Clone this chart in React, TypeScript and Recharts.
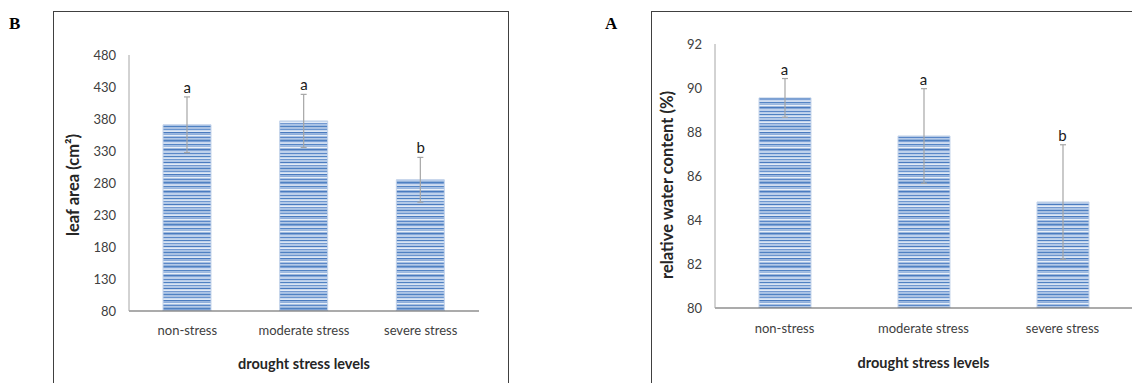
import {
  ComposedChart, Bar, XAxis, YAxis, ErrorBar, Scatter,
} from 'recharts';

const categories = ['non-stress', 'moderate stress', 'severe stress'];

const leafArea = [371, 377, 285];
const leafAreaErr = [43.5, 41.5, 35];
const leafAreaLetters = ['a', 'a', 'b'];
const leafTicks = [80, 130, 180, 230, 280, 330, 380, 430, 480];

const waterContent = [89.55, 87.82, 84.82];
const waterContentErr = [0.88, 2.15, 2.6];
const waterLetters = ['a', 'a', 'b'];
const waterTicks = [80, 82, 84, 86, 88, 90, 92];

const FONT = 'Lato, "Open Sans", sans-serif';

// stripe colours for the "horizontal lines" bar fill
const STRIPES = [
  '#4f81c2', '#a9c1e3', '#6a95cf', '#dce7f5', '#4a7bbf', '#8eaedb', '#e6eef8',
  '#5b88c8', '#b3c9e8', '#4f81c2', '#7ea2d6', '#cfdcf0', '#5585c5', '#9bb8e0',
  '#eaf0f8', '#4a7bbf', '#86a8d8', '#bdd0eb', '#5b88c8', '#c4d6ee', '#4f81c2',
  '#d8e4f4', '#6f98d0', '#b0c7e7', '#4a7bbf', '#e2ebf7', '#7399d1', '#a0bce2',
];

type Row = { name: string; value: number; err: number; top: number; letter: string };

function buildRows(vals: number[], errs: number[], letters: string[]): Row[] {
  return categories.map((name, i) => ({
    name,
    value: vals[i],
    err: errs[i],
    top: vals[i] + errs[i],
    letter: letters[i],
  }));
}

interface PanelProps {
  id: string;
  data: Row[];
  ticks: number[];
  yTitle: string;
  width: number;
  margin: { top: number; right: number; bottom: number; left: number };
  barSize: number;
  yTitleX: number;
  yTitleY: number;
  xTitleY: number;
  xTickMargin: number;
}

function Panel(p: PanelProps) {
  const pid = `stripes-${p.id}`;
  return (
    <ComposedChart width={p.width} height={383} data={p.data} margin={p.margin}>
      <defs>
        <pattern id={pid} patternUnits="userSpaceOnUse" width={8} height={STRIPES.length * 1.5}>
          {STRIPES.map((c, i) => (
            <rect key={i} x={0} y={i * 1.5} width={8} height={1.5} fill={c} />
          ))}
        </pattern>
      </defs>

      <XAxis
        dataKey="name"
        tickLine={false}
        axisLine={{ stroke: '#595959', strokeWidth: 1.2 }}
        tick={{ fill: '#404040', fontSize: 13, fontFamily: FONT }}
        tickMargin={p.xTickMargin}
        height={30}
        label={({ viewBox }: any) => (
          <text
            x={viewBox.x + viewBox.width / 2}
            y={p.xTitleY}
            textAnchor="middle"
            dominantBaseline="central"
            fontFamily={FONT}
            fontWeight={700}
            fontSize={14.5}
            fill="#262626"
          >
            drought stress levels
          </text>
        )}
      />
      <YAxis
        type="number"
        domain={[p.ticks[0], p.ticks[p.ticks.length - 1]]}
        ticks={p.ticks}
        interval={0}
        allowDataOverflow
        tickLine={false}
        axisLine={{ stroke: '#a6a6a6' }}
        tick={{ fill: '#404040', fontSize: 13, fontFamily: FONT }}
        tickMargin={7}
        width={40}
        label={() => (
          <text
            x={p.yTitleX}
            y={p.yTitleY}
            textAnchor="middle"
            dominantBaseline="central"
            transform={`rotate(-90 ${p.yTitleX} ${p.yTitleY})`}
            fontFamily={FONT}
            fontWeight={700}
            fontSize={16.5}
            fill="#262626"
          >
            {p.yTitle}
          </text>
        )}
      />

      <Bar dataKey="value" barSize={p.barSize} fill={`url(#${pid})`} stroke="#c3d3ea" strokeWidth={1} isAnimationActive={false}>
        <ErrorBar dataKey="err" width={3} stroke="#a6a6a6" strokeWidth={1.2} direction="y" />
      </Bar>
      <Scatter
        dataKey="top"
        isAnimationActive={false}
        shape={(props: any) => (
          <text
            x={props.cx}
            y={props.cy - 10}
            textAnchor="middle"
            dominantBaseline="central"
            fontFamily={FONT}
            fontSize={15}
            fill="#1a1a1a"
          >
            {props.payload.letter}
          </text>
        )}
      />
    </ComposedChart>
  );
}

export default function App() {
  const leafRows = buildRows(leafArea, leafAreaErr, leafAreaLetters);
  const waterRows = buildRows(waterContent, waterContentErr, waterLetters);

  return (
    <div style={{ position: 'relative', width: 1132, height: 383, background: '#fff', overflow: 'hidden' }}>
      <style>{'body{margin:0}'}</style>

      <div style={{ position: 'absolute', left: 53, top: 11, width: 456, height: 400, border: '1.2px solid #404040', boxSizing: 'border-box' }} />
      <div style={{ position: 'absolute', left: 651, top: 11, width: 520, height: 400, border: '1.2px solid #404040', boxSizing: 'border-box' }} />

      <div style={{ position: 'absolute', left: 9, top: 14, fontFamily: '"Liberation Serif", "Times New Roman", serif', fontWeight: 700, fontSize: 17 }}>B</div>
      <div style={{ position: 'absolute', left: 605, top: 14, fontFamily: '"Liberation Serif", "Times New Roman", serif', fontWeight: 700, fontSize: 17 }}>A</div>

      <div style={{ position: 'absolute', left: 0, top: 0 }}>
        <Panel
          id="b"
          data={leafRows}
          ticks={leafTicks}
          yTitle="leaf area (cm²)"
          width={510}
          margin={{ top: 55, right: 31, bottom: 42, left: 89 }}
          barSize={48}
          yTitleX={73}
          yTitleY={185}
          xTitleY={363}
          xTickMargin={9}
        />
      </div>

      <div style={{ position: 'absolute', left: 600, top: 0 }}>
        <Panel
          id="a"
          data={waterRows}
          ticks={waterTicks}
          yTitle="relative water content (%)"
          width={532}
          margin={{ top: 44, right: 0, bottom: 45, left: 75 }}
          barSize={52}
          yTitleX={67}
          yTitleY={185}
          xTitleY={362}
          xTickMargin={10}
        />
      </div>
    </div>
  );
}
